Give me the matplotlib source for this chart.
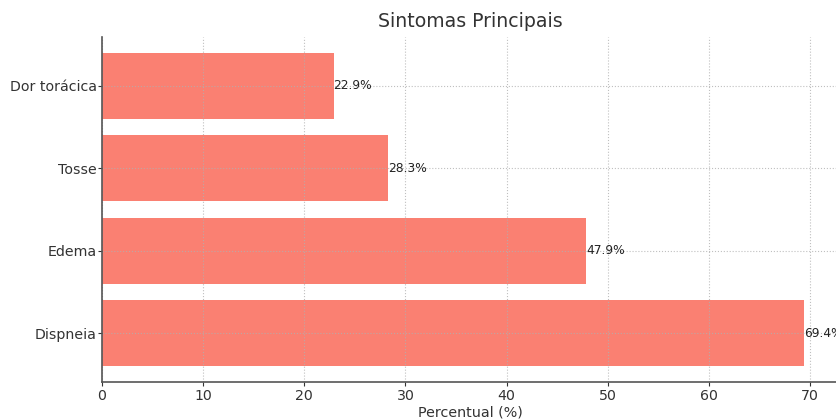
import matplotlib
matplotlib.use("Agg")
import matplotlib.pyplot as plt

# Symptom frequencies (%)
sintomas = ["Dispneia", "Edema", "Tosse", "Dor torácica"]
percentuais = [69.4, 47.9, 28.3, 22.9]

W, H = 837, 419
fig = plt.figure(figsize=(W / 100, H / 100), dpi=100)
ax = fig.add_axes([102 / W, (H - 382) / H, (839 - 102) / W, (382 - 37) / H])

bars = ax.barh(sintomas, percentuais, color="#FA8072", height=0.8)

for bar, val in zip(bars, percentuais):
    ax.text(bar.get_width(), bar.get_y() + bar.get_height() / 2, f"{val}%",
            va="center", ha="left", fontsize=8.8, color="#222222")

ax.set_title("Sintomas Principais", fontsize=13.6, color="#333333", pad=7)
ax.set_xlabel("Percentual (%)", fontsize=10.3, color="#333333", labelpad=2)
ax.set_xticks(range(0, 71, 10))
ax.tick_params(axis="both", labelsize=10.2, colors="#333333", length=3)
ax.tick_params(axis="y", pad=0.8)
ax.tick_params(axis="x", pad=2)
ax.grid(True, linestyle=":", color="#b0b0b0", linewidth=0.8, alpha=0.8)

for side in ("top", "right"):
    ax.spines[side].set_visible(False)
for side in ("left", "bottom"):
    ax.spines[side].set_color("#555555")
    ax.spines[side].set_linewidth(1.2)

fig.savefig("out.png", dpi=100)
